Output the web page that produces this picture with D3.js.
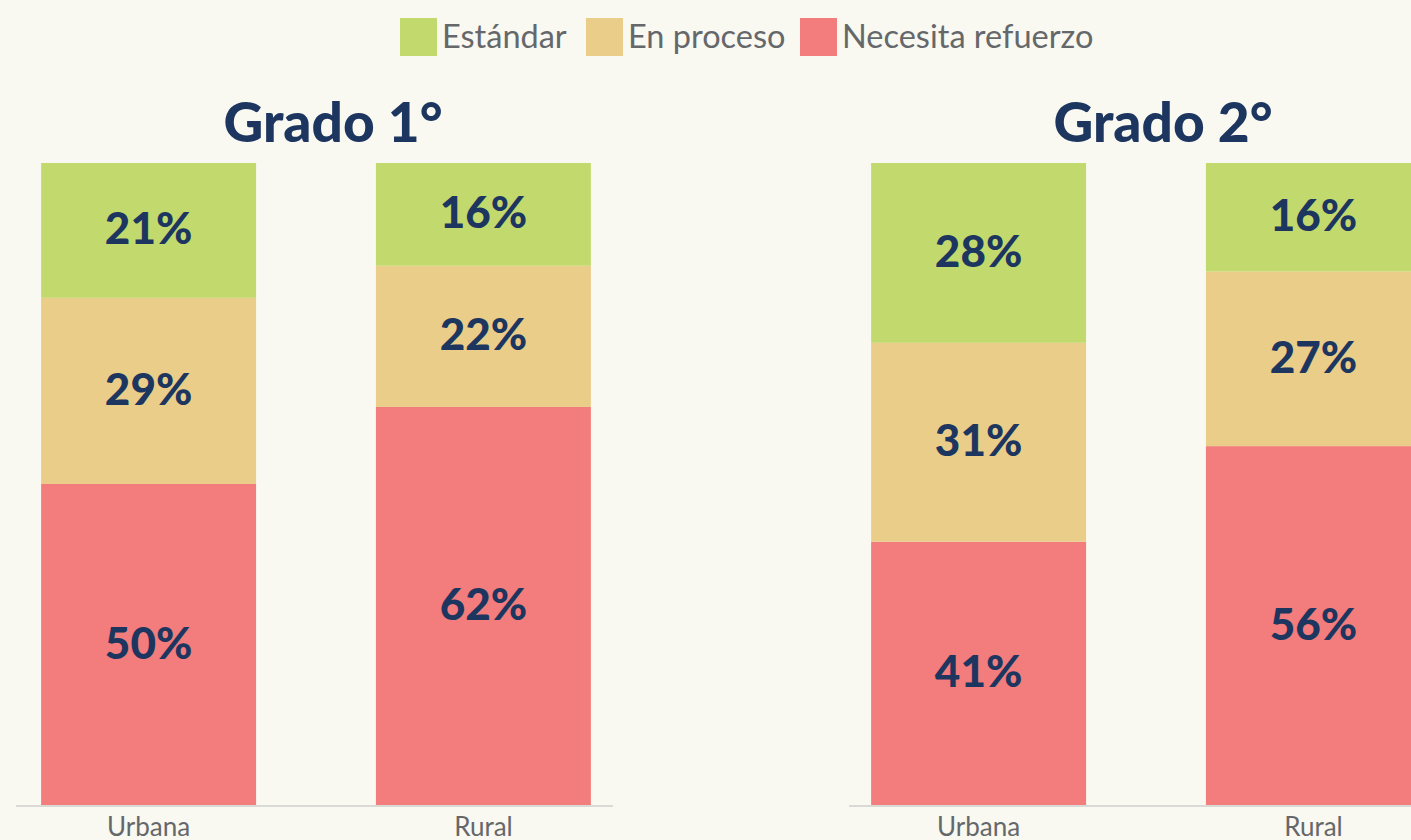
<!DOCTYPE html>
<html>
<head>
<meta charset="utf-8">
<script src="https://cdn.jsdelivr.net/npm/d3@7"></script>
<style>
  html, body { margin: 0; padding: 0; background: #f9f8f1; overflow: hidden; }
  svg { display: block; }
</style>
</head>
<body>
<svg id="chart" width="1411" height="840"></svg>
<script>
// ---- data ----
const grades = ["Grado 1°", "Grado 2°"];
const areas = ["Urbana", "Rural"];
const seriesNames = ["Estándar", "En proceso", "Necesita refuerzo"];
const seriesColors = ["#c2d96d", "#eacd88", "#f37c7c"];
// values per grade: [Urbana, Rural]
const estandar   = [[21, 16], [28, 16.9]];
const enProceso  = [[29, 22], [31, 27.2]];
const necesita   = [[50, 62], [41, 55.9]];
const estandarLabels  = [["21%", "16%"], ["28%", "16%"]];
const enProcesoLabels = [["29%", "22%"], ["31%", "27%"]];
const necesitaLabels  = [["50%", "62%"], ["41%", "56%"]];

const W = 1411, H = 840;
const svg = d3.select("#chart");
svg.append("rect").attr("width", W).attr("height", H).attr("fill", "#f9f8f1");

const navy = "#1d3660";
const gray = "#65686b";

// legend
const legendItems = [
  { name: seriesNames[0], color: seriesColors[0], x: 400 },
  { name: seriesNames[1], color: seriesColors[1], x: 586 },
  { name: seriesNames[2], color: seriesColors[2], x: 800 }
];
const lg = svg.append("g");
legendItems.forEach(it => {
  lg.append("rect").attr("x", it.x).attr("y", 18).attr("width", 37).attr("height", 38).attr("fill", it.color);
  lg.append("text").attr("x", it.x + 42).attr("y", 48)
    .attr("font-family", "Lato, 'Noto Sans', sans-serif").attr("font-size", 32.5)
    .attr("fill", gray).text(it.name);
});

const y = d3.scaleLinear().domain([0, 100]).range([805, 163]);
const panelX = [16, 846];
const axisStart = [16, 849];
const panelW = 600;

grades.forEach((g, gi) => {
  const x = d3.scaleBand().domain(areas)
    .range([panelX[gi], panelX[gi] + panelW])
    .paddingInner(0.358).paddingOuter(0.075);

  const rows = areas.map((a, ai) => ({
    area: a,
    "Estándar": estandar[gi][ai],
    "En proceso": enProceso[gi][ai],
    "Necesita refuerzo": necesita[gi][ai]
  }));
  const labels = [estandarLabels[gi], enProcesoLabels[gi], necesitaLabels[gi]];
  // stack from bottom: Necesita, En proceso, Estándar
  const order = ["Necesita refuerzo", "En proceso", "Estándar"];
  const stacked = d3.stack().keys(order)(rows);

  const panel = svg.append("g");
  stacked.forEach(layer => {
    const si = seriesNames.indexOf(layer.key);
    layer.forEach((d, ai) => {
      panel.append("rect")
        .attr("x", x(d.data.area))
        .attr("width", x.bandwidth())
        .attr("y", y(d[1]))
        .attr("height", y(d[0]) - y(d[1]))
        .attr("fill", seriesColors[si]);
      panel.append("text")
        .attr("x", x(d.data.area) + x.bandwidth() / 2)
        .attr("y", (y(d[0]) + y(d[1])) / 2 - 3)
        .attr("text-anchor", "middle")
        .attr("dominant-baseline", "central")
        .attr("font-family", "Lato, 'Noto Sans', sans-serif")
        .attr("font-weight", 900)
        .attr("font-size", 44)
        .attr("fill", navy)
        .text(labels[si][ai]);
    });
  });

  // axis
  const axis = panel.append("g").attr("transform", "translate(0,806)")
    .call(d3.axisBottom(x).tickSize(0).tickPadding(12));
  axis.select(".domain").attr("stroke", "#d9d9d6").attr("stroke-width", 2)
    .attr("d", `M${axisStart[gi]},0H${axisStart[gi] + 597}`);
  axis.selectAll("text")
    .attr("font-family", "Lato, 'Noto Sans', sans-serif")
    .attr("font-size", 26)
    .attr("fill", gray)
    .attr("dy", "0.71em");

  // title
  panel.append("text")
    .attr("x", panelX[gi] + 317)
    .attr("y", 142)
    .attr("text-anchor", "middle")
    .attr("font-family", "Lato, 'Noto Sans', sans-serif")
    .attr("font-weight", 900)
    .attr("font-size", 55)
    .attr("fill", navy)
    .text(g);
});
</script>
</body>
</html>
